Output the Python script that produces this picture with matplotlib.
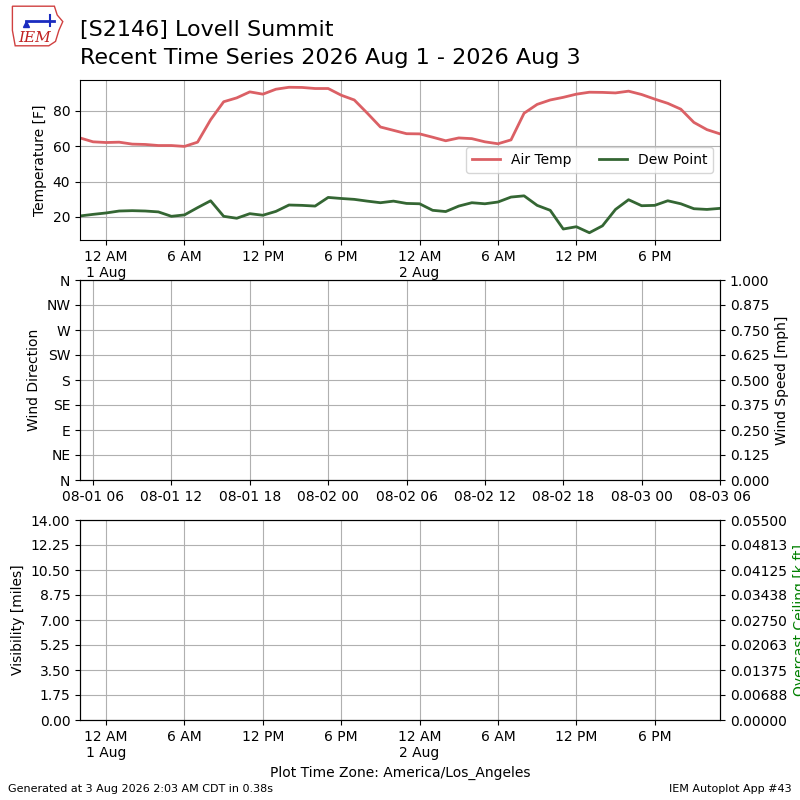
import numpy as np
import pandas as pd
import matplotlib
matplotlib.use("Agg")
import matplotlib.pyplot as plt
import matplotlib.dates as mdates
from matplotlib.ticker import FuncFormatter, FormatStrFormatter
from matplotlib.patches import Polygon

# hourly obs, local time (America/Los_Angeles), starting 31 Jul 22:00
start_local = "2026-07-31 22:00"
air_temp = [64.7, 62.5, 62.1, 62.3, 61.2, 61.0, 60.4, 60.4, 59.9, 62.3,
            75.0, 85.2, 87.4, 90.8, 89.5, 92.3, 93.4, 93.3, 92.7, 92.7,
            88.9, 86.2, 78.7, 70.9, 69.0, 67.1, 67.0, 65.1, 63.1, 64.7,
            64.3, 62.5, 61.4, 63.6, 78.7, 83.7, 86.2, 87.7, 89.5, 90.6,
            90.5, 90.2, 91.2, 89.3, 86.7, 84.3, 81.0, 73.5, 69.4, 67.0]
dew_point = [20.5, 21.4, 22.2, 23.3, 23.5, 23.3, 22.8, 20.3, 21.1, 25.2,
             29.1, 20.3, 19.2, 21.8, 20.9, 23.1, 26.7, 26.5, 26.1, 31.0,
             30.4, 29.9, 28.9, 28.0, 28.9, 27.6, 27.4, 23.7, 23.0, 26.1,
             28.0, 27.4, 28.4, 31.2, 31.9, 26.5, 23.7, 13.1, 14.4, 11.0,
             14.9, 24.2, 29.7, 26.3, 26.5, 29.1, 27.4, 24.6, 24.2, 24.8]

wind_dirs = ["N", "NE", "E", "SE", "S", "SW", "W", "NW", "N"]

times = pd.date_range(start_local, periods=len(air_temp), freq="h")
times_utc = times + pd.Timedelta(hours=7)


def local_fmt(x, pos=None):
    d = mdates.num2date(x)
    h = d.hour
    if h == 0:
        return "12 AM\n%d %s" % (d.day, d.strftime("%b"))
    if h == 12:
        return "12 PM"
    if h < 12:
        return "%d AM" % h
    return "%d PM" % (h - 12)


fig = plt.figure(figsize=(8, 8), dpi=100)

# --- temperature panel
ax1 = fig.add_axes([0.1, 0.7, 0.8, 0.2])
ax1.plot(times, air_temp, color="#db6065", lw=2, label="Air Temp")
ax1.plot(times, dew_point, color="#346633", lw=2, label="Dew Point")
ax1.set_xlim(times[0], times[-1])
ax1.set_ylabel("Temperature [F]")
ax1.grid(True)
ax1.legend(loc="center right", ncol=2)
ax1.xaxis.set_major_locator(mdates.HourLocator(byhour=[0, 6, 12, 18]))
ax1.xaxis.set_major_formatter(FuncFormatter(local_fmt))

# --- wind panel (no data, UTC axis)
ax2 = fig.add_axes([0.1, 0.4, 0.8, 0.25])
ax2.set_xlim(times_utc[0], times_utc[-1])
ax2.set_ylim(0, 360)
ax2.set_yticks(np.arange(0, 361, 45))
ax2.set_yticklabels(wind_dirs)
ax2.set_ylabel("Wind Direction")
ax2.xaxis.set_major_locator(mdates.HourLocator(byhour=[0, 6, 12, 18]))
ax2.xaxis.set_major_formatter(mdates.DateFormatter("%m-%d %H"))
ax2.grid(True)
ax2b = ax2.twinx()
ax2b.set_ylim(0, 1)
ax2b.set_yticks(np.linspace(0, 1, 9))
ax2b.yaxis.set_major_formatter(FormatStrFormatter("%.3f"))
ax2b.set_ylabel("Wind Speed [mph]")

# --- visibility / ceiling panel
ax3 = fig.add_axes([0.1, 0.1, 0.8, 0.25])
ax3.set_xlim(times[0], times[-1])
ax3.set_ylim(0, 14)
ax3.set_yticks(np.linspace(0, 14, 9))
ax3.yaxis.set_major_formatter(FormatStrFormatter("%.2f"))
ax3.set_ylabel("Visibility [miles]")
ax3.xaxis.set_major_locator(mdates.HourLocator(byhour=[0, 6, 12, 18]))
ax3.xaxis.set_major_formatter(FuncFormatter(local_fmt))
ax3.grid(True)
ax3b = ax3.twinx()
ax3b.set_ylim(0, 0.055)
ax3b.set_yticks(np.linspace(0, 0.055, 9))
ax3b.yaxis.set_major_formatter(FormatStrFormatter("%.5f"))
ax3b.set_ylabel("Overcast Ceiling [k ft]", color="g")
ax3.set_xlabel("Plot Time Zone: America/Los_Angeles")

# titles and footers
fig.text(0.1, 0.962, "[S2146] Lovell Summit", fontsize=16, va="center")
fig.text(0.1, 0.928, "Recent Time Series 2026 Aug 1 - 2026 Aug 3",
         fontsize=16, va="center")
fig.text(0.01, 0.01, "Generated at 3 Aug 2026 2:03 AM CDT in 0.38s",
         fontsize=8)
fig.text(0.99, 0.01, "IEM Autoplot App #43", fontsize=8, ha="right")

# crude IEM logo
logo = fig.add_axes([0.012, 0.94, 0.07, 0.055])
logo.axis("off")
logo.set_xlim(0, 1)
logo.set_ylim(0, 1)
logo.add_patch(Polygon([[0.05, 0.95], [0.8, 0.95], [0.85, 0.75], [0.95, 0.6],
                        [0.88, 0.4], [0.82, 0.15], [0.7, 0.05], [0.1, 0.05],
                        [0.05, 0.4]], closed=True, fill=False,
                       edgecolor="#d04040", lw=1))
logo.plot([0.3, 0.8], [0.62, 0.62], color="#1a2cc0", lw=2)
logo.plot([0.72, 0.72], [0.5, 0.75], color="#1a2cc0", lw=1.5)
logo.plot([0.3], [0.55], marker="^", color="#1a2cc0", ms=4)
logo.text(0.45, 0.22, "IEM", color="#c02020", fontsize=11, style="italic",
          family="DejaVu Serif", ha="center", va="center")

fig.savefig("out.png", dpi=100)
